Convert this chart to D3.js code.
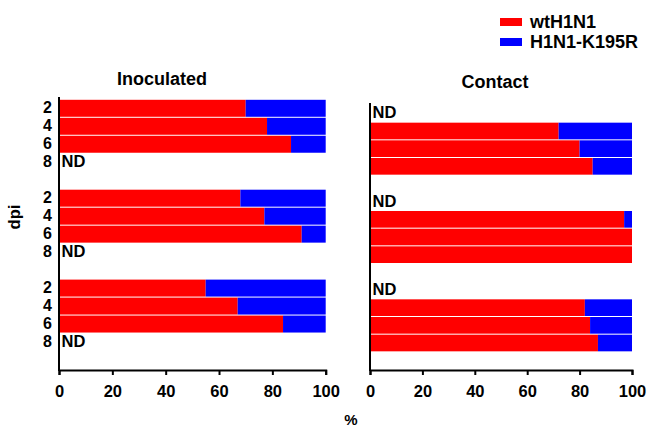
<!DOCTYPE html>
<html>
<head>
<meta charset="utf-8">
<script src="https://cdn.jsdelivr.net/npm/d3@7"></script>
<style>
  body { margin: 0; background: #fff; }
  svg { display: block; font-family: "Liberation Sans", Arial, sans-serif; font-weight: bold; }
</style>
</head>
<body>
<svg id="chart" width="649" height="426"></svg>
<script>
// ---- data ----
const dpiLabels = ["2", "4", "6", "8"];
const seriesNames = ["wtH1N1", "H1N1-K195R"];
const seriesColors = ["#ff0000", "#0000ff"];
const xTicks = [0, 20, 40, 60, 80, 100];
// Inoculated (3 groups x 4 dpi); null = ND
const inocWt    = [[70, 78, 87, null], [68, 77, 91, null], [55, 67, 84, null]];
const inocK195R = [[30, 22, 13, null], [32, 23, 9, null], [45, 33, 16, null]];
// Contact
const contWt    = [[null, 72, 80, 85], [null, 97, 100, 100], [null, 82, 84, 87]];
const contK195R = [[null, 28, 20, 15], [null, 3, 0, 0], [null, 18, 16, 13]];

const svg = d3.select("#chart");

const slots = d3.range(15); // 3 groups x (4 rows + 1 gap)

function panel(opts) {
  const { x0, x1, yTop, yBot, axisTop, title, titleX, titleY, wt, k, showLabels } = opts;
  const x = d3.scaleLinear().domain([0, 100]).range([x0, x1]);
  const y = d3.scaleBand().domain(slots).range([yTop, yBot]).padding(0);
  const g = svg.append("g");
  const bw = y.bandwidth();

  wt.forEach((grp, gi) => {
    grp.forEach((v, ri) => {
      const slot = gi * 5 + ri;
      const yy = y(slot);
      if (v === null) {
        g.append("text").attr("x", x(0) + 2.5).attr("y", yy + bw / 2 + 5)
          .attr("font-size", 16.5).text("ND");
        return;
      }
      const kv = k[gi][ri];
      g.append("rect").attr("x", x(0)).attr("y", yy + 0.5)
        .attr("width", x(v) - x(0)).attr("height", bw - 1)
        .attr("fill", seriesColors[0]);
      if (kv > 0) {
        g.append("rect").attr("x", x(v)).attr("y", yy + 0.5)
          .attr("width", x(v + kv) - x(v)).attr("height", bw - 1)
          .attr("fill", seriesColors[1]);
      }
    });
    if (showLabels) {
      dpiLabels.forEach((lab, ri) => {
        g.append("text").attr("x", x0 - 7).attr("y", y(gi * 5 + ri) + bw / 2 + 5)
          .attr("text-anchor", "end").attr("font-size", 16).text(lab);
      });
    }
  });

  // y axis line
  g.append("line").attr("x1", x0).attr("x2", x0).attr("y1", axisTop).attr("y2", 371)
    .attr("stroke", "#000").attr("stroke-width", 2);

  // x axis
  const ax = g.append("g").attr("transform", "translate(0,370)")
    .call(d3.axisBottom(x).tickValues(xTicks).tickSize(5).tickSizeOuter(5).tickPadding(10.5));
  ax.select(".domain").attr("stroke-width", 2);
  ax.selectAll(".tick line").attr("stroke-width", 2);
  ax.selectAll(".tick text").attr("font-size", 16.5).attr("font-family", "Liberation Sans, Arial, sans-serif")
    .attr("font-weight", "bold").attr("fill", "#000");

  g.append("text").attr("x", titleX).attr("y", titleY).attr("text-anchor", "middle")
    .attr("font-size", 18).text(title);
}

panel({ x0: 59, x1: 325.7, yTop: 99.3, yBot: 369, axisTop: 97, title: "Inoculated", titleX: 162, titleY: 85,
        wt: inocWt, k: inocK195R, showLabels: true });
panel({ x0: 370, x1: 632, yTop: 104.5, yBot: 369.5, axisTop: 103, title: "Contact", titleX: 495, titleY: 88,
        wt: contWt, k: contK195R, showLabels: false });

// axis titles
svg.append("text").attr("x", 351).attr("y", 424.5).attr("text-anchor", "middle")
  .attr("font-size", 15).text("%");
svg.append("text").attr("transform", "translate(20,217) rotate(-90)").attr("text-anchor", "middle")
  .attr("font-size", 16.5).text("dpi");

// legend
const leg = svg.append("g");
seriesNames.forEach((n, i) => {
  leg.append("rect").attr("x", 500).attr("y", 18 + i * 20).attr("width", 22).attr("height", 8)
    .attr("fill", seriesColors[i]);
  leg.append("text").attr("x", 530).attr("y", 27.5 + i * 20).attr("font-size", 18).text(n);
});
</script>
</body>
</html>
